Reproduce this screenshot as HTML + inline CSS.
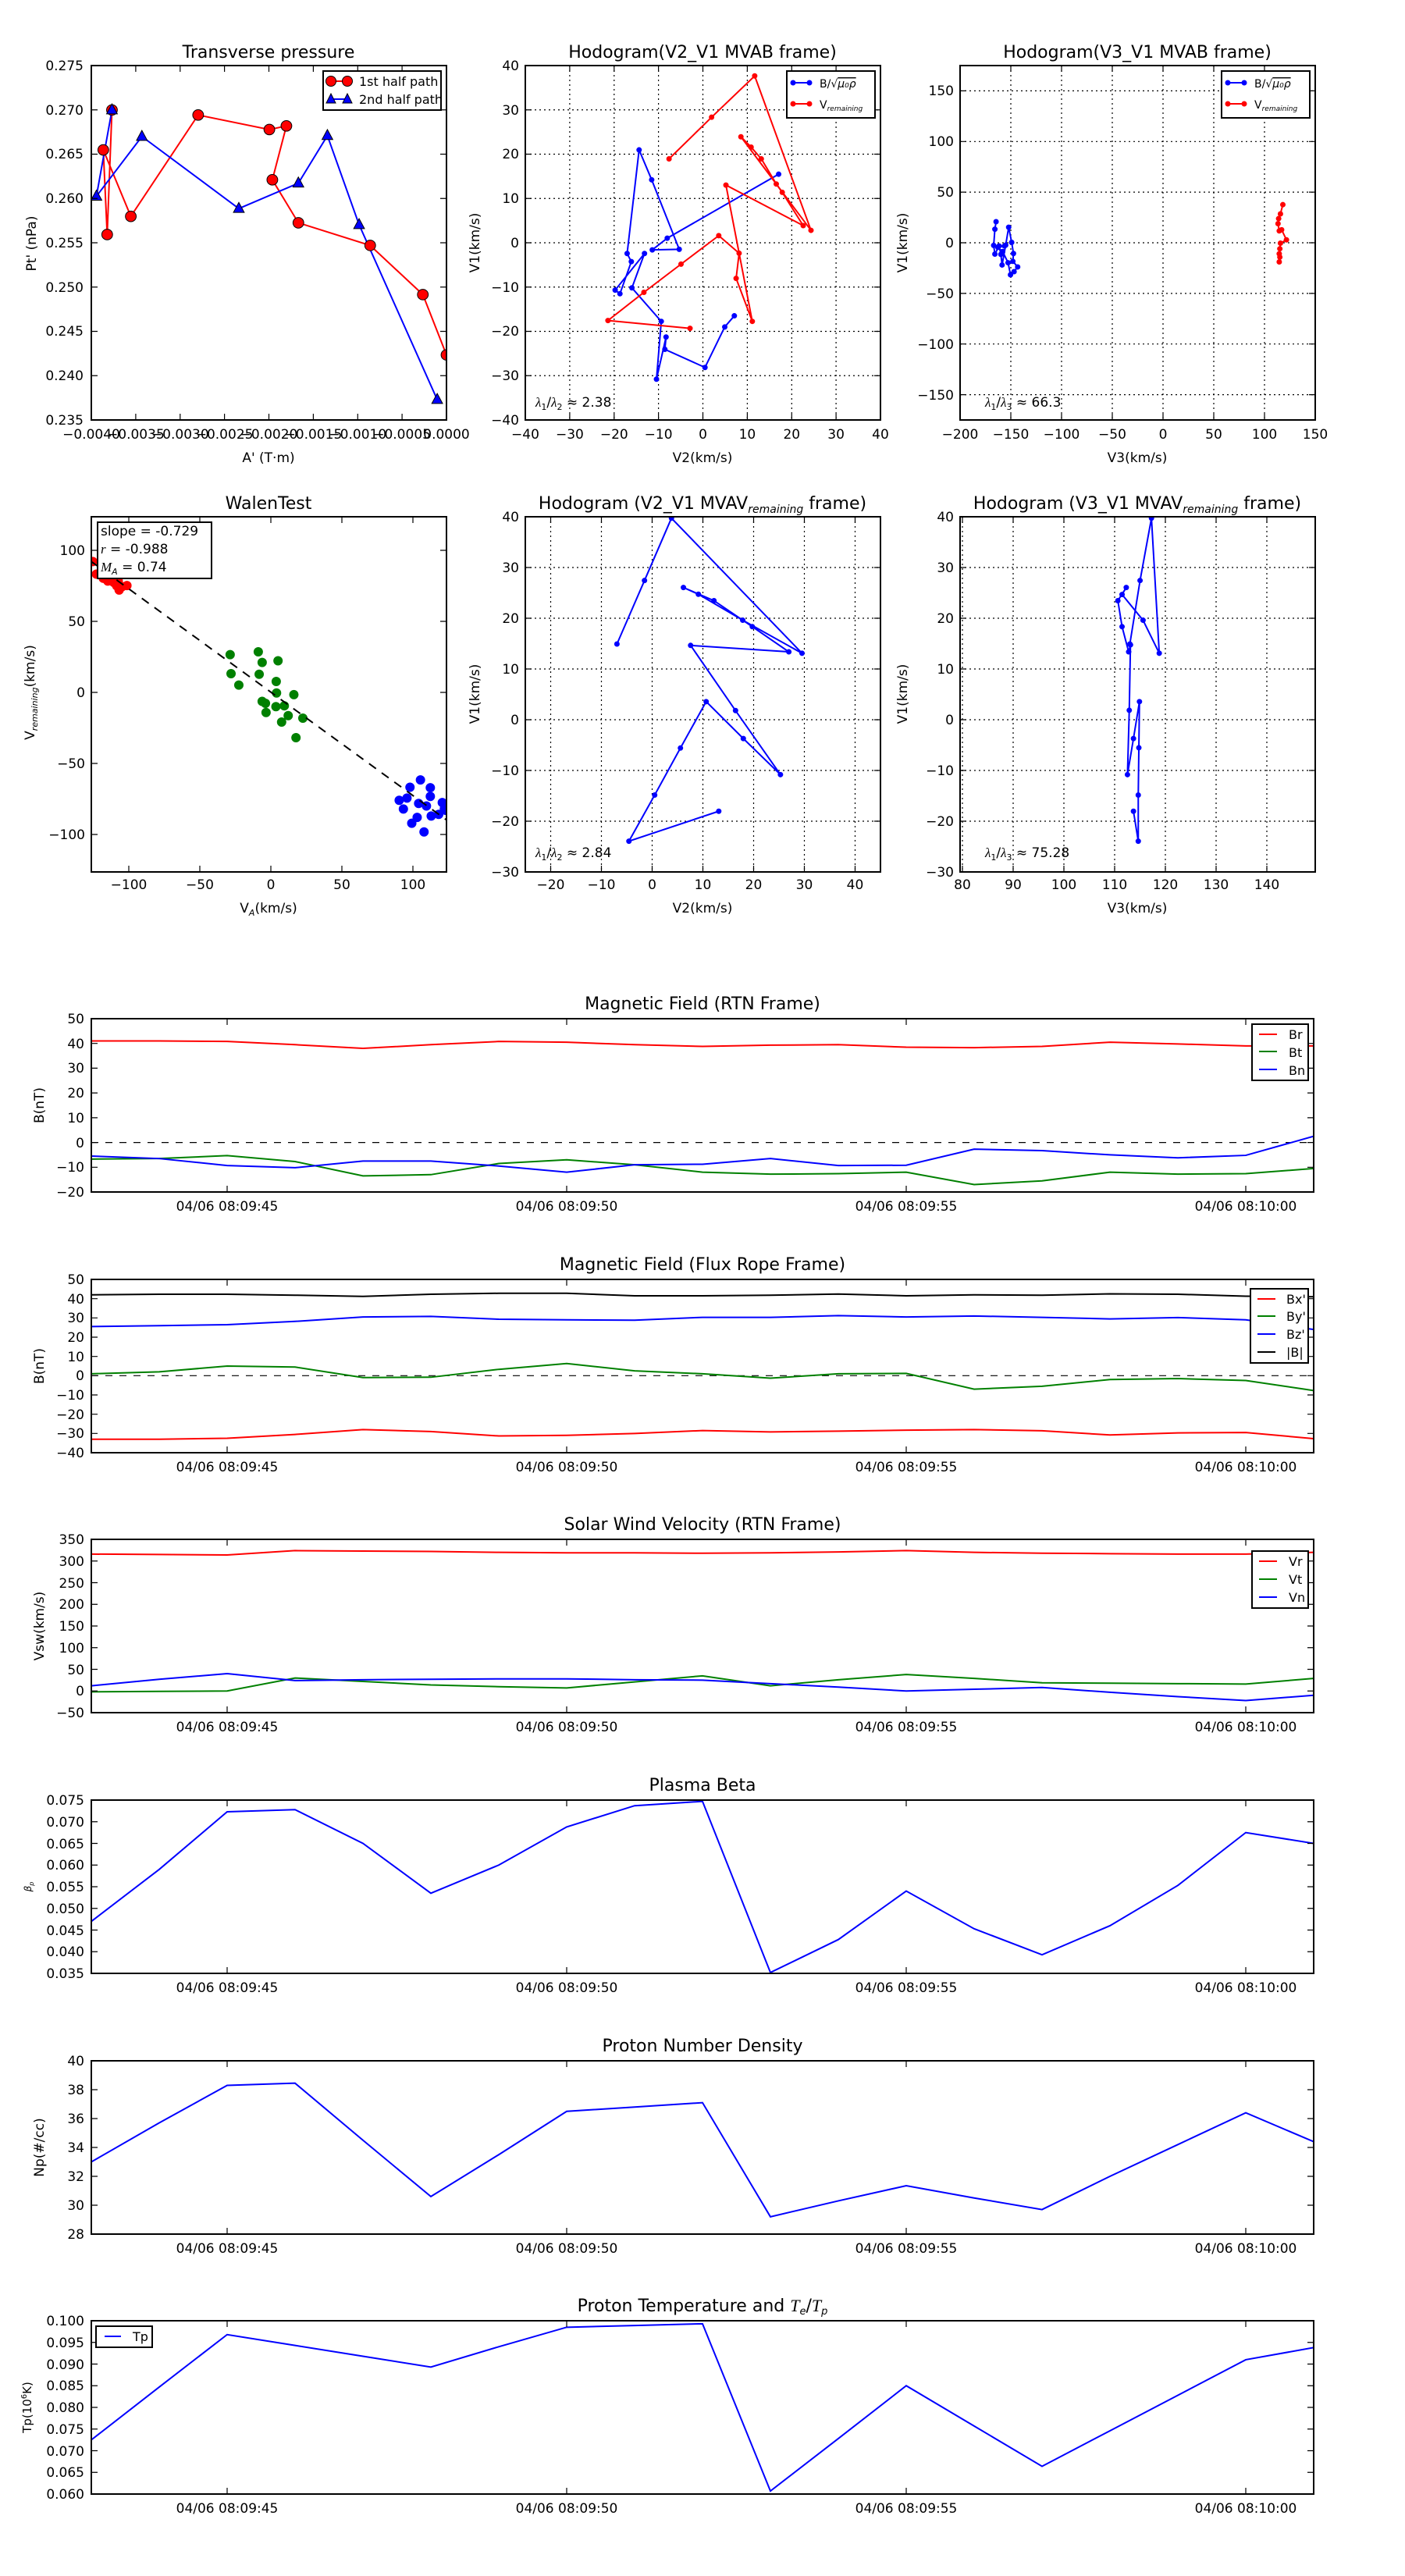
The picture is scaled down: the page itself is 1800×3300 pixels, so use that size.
<!DOCTYPE html>
<html><head><meta charset="utf-8"><style>
html,body{margin:0;padding:0;background:#fff}
svg{display:block}
text{font-family:"DejaVu Sans","Liberation Sans",sans-serif;fill:#000}
.t{font-size:22px;text-anchor:middle}
.k{font-size:17px}
.kr{font-size:17px;text-anchor:end}
.kc{font-size:17px;text-anchor:middle}
.ax{fill:none;stroke:#000;stroke-width:2}
.tk{fill:none;stroke:#000;stroke-width:1.2}
.gr{fill:none;stroke:#000;stroke-width:1.2;stroke-dasharray:2,4}
.ns{vector-effect:non-scaling-stroke}
polyline{fill:none}
</style></head><body>
<svg width="1800" height="3300" viewBox="0 0 1800 3300" xmlns="http://www.w3.org/2000/svg">
<rect width="1800" height="3300" fill="#fff"/>

<!-- ========== Transverse pressure ========== -->
<text class="t" x="344" y="74">Transverse pressure</text>
<svg x="117" y="84" width="455" height="454" viewBox="305 124 1187 1269" preserveAspectRatio="none">
<polyline class="ns" stroke="#f00" stroke-width="2" points="374,283 358,729 345,426 437,664 662,301 900,353 957,340 910,533 997,687 1237,768 1413,944 1492,1160"/>
<polyline class="ns" stroke="#00f" stroke-width="2" points="374,283 322,592 474,378 798,636 997,545 1094,375 1200,694 1461,1320"/>
<g fill="#f00" stroke="#000" stroke-width="1" >
<ellipse class="ns" fill="#f00" cx="374" cy="283" rx="18" ry="19"/><ellipse class="ns" fill="#f00" cx="358" cy="729" rx="18" ry="19"/><ellipse class="ns" fill="#f00" cx="345" cy="426" rx="18" ry="19"/><ellipse class="ns" fill="#f00" cx="437" cy="664" rx="18" ry="19"/><ellipse class="ns" fill="#f00" cx="662" cy="301" rx="18" ry="19"/><ellipse class="ns" fill="#f00" cx="900" cy="353" rx="18" ry="19"/><ellipse class="ns" fill="#f00" cx="957" cy="340" rx="18" ry="19"/><ellipse class="ns" fill="#f00" cx="910" cy="533" rx="18" ry="19"/><ellipse class="ns" fill="#f00" cx="997" cy="687" rx="18" ry="19"/><ellipse class="ns" fill="#f00" cx="1237" cy="768" rx="18" ry="19"/><ellipse class="ns" fill="#f00" cx="1413" cy="944" rx="18" ry="19"/><ellipse class="ns" fill="#f00" cx="1492" cy="1160" rx="18" ry="19"/>
</g>
<g stroke="#000" stroke-width="1">
<polygon class="ns" fill="#00f" points="356,297 392,297 374,261"/><polygon class="ns" fill="#00f" points="304,606 340,606 322,570"/><polygon class="ns" fill="#00f" points="456,392 492,392 474,356"/><polygon class="ns" fill="#00f" points="780,650 816,650 798,614"/><polygon class="ns" fill="#00f" points="979,559 1015,559 997,523"/><polygon class="ns" fill="#00f" points="1076,389 1112,389 1094,353"/><polygon class="ns" fill="#00f" points="1182,708 1218,708 1200,672"/><polygon class="ns" fill="#00f" points="1443,1334 1479,1334 1461,1298"/>
</g>
</svg>
<rect class="ax" x="117" y="84" width="455" height="454"/>
<path class="tk" d="M173.9 538v-8M230.8 538v-8M287.6 538v-8M344.5 538v-8M401.4 538v-8M458.3 538v-8M515.1 538v-8M173.9 84v8M230.8 84v8M287.6 84v8M344.5 84v8M401.4 84v8M458.3 84v8M515.1 84v8M117 140.75h8M117 197.5h8M117 254.25h8M117 311h8M117 367.75h8M117 424.5h8M117 481.25h8M572 140.75h-8M572 197.5h-8M572 254.25h-8M572 311h-8M572 367.75h-8M572 424.5h-8M572 481.25h-8"/>
<g class="kr"><text x="107" y="90">0.275</text><text x="107" y="147">0.270</text><text x="107" y="203">0.265</text><text x="107" y="260">0.260</text><text x="107" y="317">0.255</text><text x="107" y="374">0.250</text><text x="107" y="430">0.245</text><text x="107" y="487">0.240</text><text x="107" y="544">0.235</text></g>
<g class="kc"><text x="117" y="562">−0.0040</text><text x="173.9" y="562">−0.0035</text><text x="230.8" y="562">−0.0030</text><text x="287.6" y="562">−0.0025</text><text x="344.5" y="562">−0.0020</text><text x="401.4" y="562">−0.0015</text><text x="458.3" y="562">−0.0010</text><text x="515.1" y="562">−0.0005</text><text x="572" y="562">0.0000</text></g>
<text class="kc" x="344" y="592">A' (T·m)</text>
<text class="kc" transform="translate(46,312) rotate(-90)">Pt' (nPa)</text>
<rect x="414" y="91" width="151" height="50" fill="#fff" stroke="#000" stroke-width="2"/>
<path d="M424 104h21" stroke="#f00" stroke-width="2"/><circle cx="424" cy="104" r="6.5" fill="#f00" stroke="#000"/><circle cx="445" cy="104" r="6.5" fill="#f00" stroke="#000"/>
<path d="M424 127h21" stroke="#00f" stroke-width="2"/><polygon points="418,132 430,132 424,120" fill="#00f" stroke="#000"/><polygon points="439,132 451,132 445,120" fill="#00f" stroke="#000"/>
<text class="k" x="460" y="110" style="font-size:16px">1st half path</text><text class="k" x="460" y="133" style="font-size:16px">2nd half path</text>

<!-- ========== Hodogram V2_V1 MVAB ========== -->
<text class="t" x="900" y="74">Hodogram(V2_V1 MVAB frame)</text>
<path class="gr" d="M729.9 84V538M786.8 84V538M843.6 84V538M900.5 84V538M957.4 84V538M1014.3 84V538M1071.1 84V538M673 140.75H1128M673 197.5H1128M673 254.25H1128M673 311H1128M673 367.75H1128M673 424.5H1128M673 481.25H1128"/>
<svg x="673" y="84" width="455" height="454" viewBox="95 124 593 1269" preserveAspectRatio="none">
<polyline class="ns" stroke="#00f" stroke-width="2" points="444,1020 428,1060 395,1205 328,1140 330,1096 314,1247 322,1040 273,920 294,797 245,928 253,941 272,826 265,797 285,426 306,533 352,782 307,784 332,742 518,513"/>
<path class="ns" stroke="#00f" stroke-width="7" stroke-linecap="round" d="M444 1020h0M428 1060h0M395 1205h0M328 1140h0M330 1096h0M314 1247h0M322 1040h0M273 920h0M294 797h0M245 928h0M253 941h0M272 826h0M265 797h0M285 426h0M306 533h0M352 782h0M307 784h0M332 742h0M518 513h0"/>
<polyline class="ns" stroke="#f00" stroke-width="2" points="370,1065 233,1037 293,936 355,835 418,733 452,796 447,886 474,1040 430,552 559,697 524,578 514,548 489,458 472,416 455,379 572,714 478,161 406,309 335,458"/>
<path class="ns" stroke="#f00" stroke-width="7" stroke-linecap="round" d="M370 1065h0M233 1037h0M293 936h0M355 835h0M418 733h0M452 796h0M447 886h0M474 1040h0M430 552h0M559 697h0M524 578h0M514 548h0M489 458h0M472 416h0M455 379h0M572 714h0M478 161h0M406 309h0M335 458h0"/>
</svg>
<rect class="ax" x="673" y="84" width="455" height="454"/>
<path class="tk" d="M729.9 538v-8M786.8 538v-8M843.6 538v-8M900.5 538v-8M957.4 538v-8M1014.3 538v-8M1071.1 538v-8M729.9 84v8M786.8 84v8M843.6 84v8M900.5 84v8M957.4 84v8M1014.3 84v8M1071.1 84v8M673 140.75h8M673 197.5h8M673 254.25h8M673 311h8M673 367.75h8M673 424.5h8M673 481.25h8M1128 140.75h-8M1128 197.5h-8M1128 254.25h-8M1128 311h-8M1128 367.75h-8M1128 424.5h-8M1128 481.25h-8"/>
<g class="kr"><text x="665" y="90">40</text><text x="665" y="147">30</text><text x="665" y="203">20</text><text x="665" y="260">10</text><text x="665" y="317">0</text><text x="665" y="374">−10</text><text x="665" y="430">−20</text><text x="665" y="487">−30</text><text x="665" y="544">−40</text></g>
<g class="kc"><text x="673" y="562">−40</text><text x="729.9" y="562">−30</text><text x="786.8" y="562">−20</text><text x="843.6" y="562">−10</text><text x="900.5" y="562">0</text><text x="957.4" y="562">10</text><text x="1014.3" y="562">20</text><text x="1071.1" y="562">30</text><text x="1128" y="562">40</text></g>
<text class="kc" x="900" y="592">V2(km/s)</text>
<text class="kc" transform="translate(614,311) rotate(-90)">V1(km/s)</text>
<text class="k" x="686" y="521"><tspan font-style="italic" font-family="Liberation Serif,serif">λ</tspan><tspan font-size="11" dy="4">1</tspan><tspan dy="-4">/</tspan><tspan font-style="italic" font-family="Liberation Serif,serif">λ</tspan><tspan font-size="11" dy="4">2</tspan><tspan dy="-4"> ≈ 2.38</tspan></text>
<rect x="1008" y="91" width="113" height="60" fill="#fff" stroke="#000" stroke-width="2"/>
<path d="M1016 106h21" stroke="#00f" stroke-width="2"/><circle cx="1016" cy="106" r="3.5" fill="#00f"/><circle cx="1037" cy="106" r="3.5" fill="#00f"/>
<path d="M1016 133h21" stroke="#f00" stroke-width="2"/><circle cx="1016" cy="133" r="3.5" fill="#f00"/><circle cx="1037" cy="133" r="3.5" fill="#f00"/>
<text x="1050" y="112" style="font-size:14px">B/√<tspan font-style="italic" text-decoration="overline">μ₀ρ</tspan></text>
<text x="1050" y="139" style="font-size:14px">V<tspan font-size="9" font-style="italic" dy="3">remaining</tspan></text>

<!-- ========== Hodogram V3_V1 MVAB ========== -->
<text class="t" x="1457" y="74">Hodogram(V3_V1 MVAB frame)</text>
<path class="gr" d="M1295 84V538M1360 84V538M1425 84V538M1490 84V538M1555 84V538M1620 84V538M1230 116.4H1685M1230 181.3H1685M1230 246.1H1685M1230 311H1685M1230 375.9H1685M1230 440.7H1685M1230 505.6H1685"/>
<svg x="1230" y="84" width="455" height="454" viewBox="822 124 592 1269" preserveAspectRatio="none">
<polyline class="ns" stroke="#00f" stroke-width="2" points="882,683 880,710 878,768 880,799 887,770 890,800 892,838 898,767 903,703 908,757 911,797 910,825 918,845 912,862 906,873 902,830 893,790 885,775 896,770"/>
<path class="ns" stroke="#00f" stroke-width="7" stroke-linecap="round" d="M882 683h0M880 710h0M878 768h0M880 799h0M887 770h0M890 800h0M892 838h0M898 767h0M903 703h0M908 757h0M911 797h0M910 825h0M918 845h0M912 862h0M906 873h0M902 830h0M893 790h0M885 775h0M896 770h0"/>
<polyline class="ns" stroke="#f00" stroke-width="2" points="1360,622 1356,655 1353,672 1352,690 1354,716 1358,712 1366,748 1356,760 1355,780 1354,798 1355,810 1354,827 1354,820"/>
<path class="ns" stroke="#f00" stroke-width="7" stroke-linecap="round" d="M1360 622h0M1356 655h0M1353 672h0M1352 690h0M1354 716h0M1358 712h0M1366 748h0M1356 760h0M1355 780h0M1354 798h0M1355 810h0M1354 827h0"/>
</svg>
<rect class="ax" x="1230" y="84" width="455" height="454"/>
<path class="tk" d="M1295 538v-8M1360 538v-8M1425 538v-8M1490 538v-8M1555 538v-8M1620 538v-8M1295 84v8M1360 84v8M1425 84v8M1490 84v8M1555 84v8M1620 84v8M1230 116.4h8M1230 181.3h8M1230 246.1h8M1230 311h8M1230 375.9h8M1230 440.7h8M1230 505.6h8M1685 116.4h-8M1685 181.3h-8M1685 246.1h-8M1685 311h-8M1685 375.9h-8M1685 440.7h-8M1685 505.6h-8"/>
<g class="kr"><text x="1222" y="122">150</text><text x="1222" y="187">100</text><text x="1222" y="252">50</text><text x="1222" y="317">0</text><text x="1222" y="382">−50</text><text x="1222" y="447">−100</text><text x="1222" y="512">−150</text></g>
<g class="kc"><text x="1230" y="562">−200</text><text x="1295" y="562">−150</text><text x="1360" y="562">−100</text><text x="1425" y="562">−50</text><text x="1490" y="562">0</text><text x="1555" y="562">50</text><text x="1620" y="562">100</text><text x="1685" y="562">150</text></g>
<text class="kc" x="1457" y="592">V3(km/s)</text>
<text class="kc" transform="translate(1162,311) rotate(-90)">V1(km/s)</text>
<text class="k" x="1262" y="521"><tspan font-style="italic" font-family="Liberation Serif,serif">λ</tspan><tspan font-size="11" dy="4">1</tspan><tspan dy="-4">/</tspan><tspan font-style="italic" font-family="Liberation Serif,serif">λ</tspan><tspan font-size="11" dy="4">3</tspan><tspan dy="-4"> ≈ 66.3</tspan></text>
<rect x="1565" y="91" width="113" height="60" fill="#fff" stroke="#000" stroke-width="2"/>
<path d="M1573 106h21" stroke="#00f" stroke-width="2"/><circle cx="1573" cy="106" r="3.5" fill="#00f"/><circle cx="1594" cy="106" r="3.5" fill="#00f"/>
<path d="M1573 133h21" stroke="#f00" stroke-width="2"/><circle cx="1573" cy="133" r="3.5" fill="#f00"/><circle cx="1594" cy="133" r="3.5" fill="#f00"/>
<text x="1607" y="112" style="font-size:14px">B/√<tspan font-style="italic" text-decoration="overline">μ₀ρ</tspan></text>
<text x="1607" y="139" style="font-size:14px">V<tspan font-size="9" font-style="italic" dy="3">remaining</tspan></text>

<!-- ========== WalenTest ========== -->
<text class="t" x="344" y="652">WalenTest</text>
<svg x="117" y="662" width="455" height="455" viewBox="305 90 1187 1270" preserveAspectRatio="none">
<path class="ns" stroke="#f00" stroke-width="12" stroke-linecap="round" d="M310 250h0M322 295h0M345 310h0M360 320h0M372 318h0M385 312h0M390 337h0M398 352h0M408 340h0M424 336h0M395 320h0M380 325h0"/>
<path class="ns" stroke="#008000" stroke-width="12" stroke-linecap="round" d="M769 583h0M772 651h0M798 692h0M863 573h0M876 611h0M866 653h0M929 605h0M923 679h0M924 720h0M982 726h0M876 750h0M887 757h0M922 769h0M950 766h0M889 790h0M963 801h0M941 824h0M1012 810h0M989 880h0"/>
<path class="ns" stroke="#00f" stroke-width="12" stroke-linecap="round" d="M1334 1104h0M1348 1135h0M1360 1096h0M1370 1057h0M1376 1186h0M1394 1165h0M1399 1115h0M1405 1031h0M1417 1217h0M1425 1124h0M1438 1059h0M1438 1090h0M1441 1160h0M1466 1154h0M1478 1112h0M1485 1134h0M1490 1140h0"/>
</svg>
<path d="M117 719.4L572 1050.4" stroke="#000" stroke-width="2" stroke-dasharray="11,9" fill="none"/>
<rect class="ax" x="117" y="662" width="455" height="455"/>
<path class="tk" d="M165 1117v-8M256 1117v-8M347 1117v-8M438 1117v-8M529 1117v-8M165 662v8M256 662v8M347 662v8M438 662v8M529 662v8M117 705h8M117 796h8M117 887h8M117 978h8M117 1069h8M572 705h-8M572 796h-8M572 887h-8M572 978h-8M572 1069h-8"/>
<g class="kr"><text x="109" y="711">100</text><text x="109" y="802">50</text><text x="109" y="893">0</text><text x="109" y="984">−50</text><text x="109" y="1075">−100</text></g>
<g class="kc"><text x="165" y="1139">−100</text><text x="256" y="1139">−50</text><text x="347" y="1139">0</text><text x="438" y="1139">50</text><text x="529" y="1139">100</text></g>
<text class="kc" x="344" y="1169">V<tspan font-size="11" font-style="italic" dy="4">A</tspan><tspan dy="-4">(km/s)</tspan></text>
<text class="kc" transform="translate(44,887) rotate(-90)">V<tspan font-size="11" font-style="italic" dy="4">remaining</tspan><tspan dy="-4">(km/s)</tspan></text>
<rect x="125" y="669" width="146" height="72" fill="#fff" stroke="#000" stroke-width="2"/>
<text class="k" x="129" y="686">slope = -0.729</text>
<text class="k" x="129" y="709"><tspan font-style="italic" font-family="Liberation Serif,serif">r</tspan> = -0.988</text>
<text class="k" x="129" y="732"><tspan font-style="italic" font-family="Liberation Serif,serif">M</tspan><tspan font-size="11" font-style="italic" dy="4">A</tspan><tspan dy="-4"> = 0.74</tspan></text>

<!-- ========== Hodogram V2_V1 MVAV ========== -->
<text class="t" x="900" y="652">Hodogram (V2_V1 MVAV<tspan font-size="14" font-style="italic" dy="5">remaining</tspan><tspan dy="-5"> frame)</tspan></text>
<path class="gr" d="M705.5 662V1117M770.5 662V1117M835.5 662V1117M900.5 662V1117M965.5 662V1117M1030.5 662V1117M1095.5 662V1117M673 727H1128M673 792H1128M673 857H1128M673 922H1128M673 987H1128M673 1052H1128"/>
<svg x="673" y="662" width="455" height="455" viewBox="95 90 593 1270" preserveAspectRatio="none">
<polyline class="ns" stroke="#00f" stroke-width="2" points="418,1143 268,1250 311,1085 354,917 397,751 459,883 521,1012 446,783 371,550 535,573 474,483 410,390 359,343 384,367 458,460 557,578 339,95 294,318 248,545"/>
<path class="ns" stroke="#00f" stroke-width="7" stroke-linecap="round" d="M418 1143h0M268 1250h0M311 1085h0M354 917h0M397 751h0M459 883h0M521 1012h0M446 783h0M371 550h0M535 573h0M474 483h0M410 390h0M359 343h0M384 367h0M458 460h0M557 578h0M339 95h0M294 318h0M248 545h0"/>
</svg>
<rect class="ax" x="673" y="662" width="455" height="455"/>
<path class="tk" d="M705.5 1117v-8M770.5 1117v-8M835.5 1117v-8M900.5 1117v-8M965.5 1117v-8M1030.5 1117v-8M1095.5 1117v-8M705.5 662v8M770.5 662v8M835.5 662v8M900.5 662v8M965.5 662v8M1030.5 662v8M1095.5 662v8M673 727h8M673 792h8M673 857h8M673 922h8M673 987h8M673 1052h8M1128 727h-8M1128 792h-8M1128 857h-8M1128 922h-8M1128 987h-8M1128 1052h-8"/>
<g class="kr"><text x="665" y="668">40</text><text x="665" y="733">30</text><text x="665" y="798">20</text><text x="665" y="863">10</text><text x="665" y="928">0</text><text x="665" y="993">−10</text><text x="665" y="1058">−20</text><text x="665" y="1123">−30</text></g>
<g class="kc"><text x="705.5" y="1139">−20</text><text x="770.5" y="1139">−10</text><text x="835.5" y="1139">0</text><text x="900.5" y="1139">10</text><text x="965.5" y="1139">20</text><text x="1030.5" y="1139">30</text><text x="1095.5" y="1139">40</text></g>
<text class="kc" x="900" y="1169">V2(km/s)</text>
<text class="kc" transform="translate(614,889) rotate(-90)">V1(km/s)</text>
<text class="k" x="686" y="1098"><tspan font-style="italic" font-family="Liberation Serif,serif">λ</tspan><tspan font-size="11" dy="4">1</tspan><tspan dy="-4">/</tspan><tspan font-style="italic" font-family="Liberation Serif,serif">λ</tspan><tspan font-size="11" dy="4">2</tspan><tspan dy="-4"> ≈ 2.84</tspan></text>

<!-- ========== Hodogram V3_V1 MVAV ========== -->
<text class="t" x="1457" y="652">Hodogram (V3_V1 MVAV<tspan font-size="14" font-style="italic" dy="5">remaining</tspan><tspan dy="-5"> frame)</tspan></text>
<path class="gr" d="M1233 662V1117M1298 662V1117M1363 662V1117M1428 662V1117M1493 662V1117M1558 662V1117M1623 662V1117M1230 727H1685M1230 792H1685M1230 857H1685M1230 922H1685M1230 987H1685M1230 1052H1685"/>
<svg x="1230" y="662" width="455" height="455" viewBox="822 90 592 1270" preserveAspectRatio="none">
<polyline class="ns" stroke="#00f" stroke-width="2" points="1111,1143 1119,1250 1119,1085 1120,916 1121,751 1111,883 1101,1012 1104,782 1106,548 1103,573 1092,483 1085,390 1099,343 1092,368 1127,460 1154,578 1141,95 1122,318 1105,545"/>
<path class="ns" stroke="#00f" stroke-width="7" stroke-linecap="round" d="M1111 1143h0M1119 1250h0M1119 1085h0M1120 916h0M1121 751h0M1111 883h0M1101 1012h0M1104 782h0M1106 548h0M1103 573h0M1092 483h0M1085 390h0M1099 343h0M1092 368h0M1127 460h0M1154 578h0M1141 95h0M1122 318h0M1105 545h0"/>
</svg>
<rect class="ax" x="1230" y="662" width="455" height="455"/>
<path class="tk" d="M1233 1117v-8M1298 1117v-8M1363 1117v-8M1428 1117v-8M1493 1117v-8M1558 1117v-8M1623 1117v-8M1233 662v8M1298 662v8M1363 662v8M1428 662v8M1493 662v8M1558 662v8M1623 662v8M1230 727h8M1230 792h8M1230 857h8M1230 922h8M1230 987h8M1230 1052h8M1685 727h-8M1685 792h-8M1685 857h-8M1685 922h-8M1685 987h-8M1685 1052h-8"/>
<g class="kr"><text x="1222" y="668">40</text><text x="1222" y="733">30</text><text x="1222" y="798">20</text><text x="1222" y="863">10</text><text x="1222" y="928">0</text><text x="1222" y="993">−10</text><text x="1222" y="1058">−20</text><text x="1222" y="1123">−30</text></g>
<g class="kc"><text x="1233" y="1139">80</text><text x="1298" y="1139">90</text><text x="1363" y="1139">100</text><text x="1428" y="1139">110</text><text x="1493" y="1139">120</text><text x="1558" y="1139">130</text><text x="1623" y="1139">140</text></g>
<text class="kc" x="1457" y="1169">V3(km/s)</text>
<text class="kc" transform="translate(1162,889) rotate(-90)">V1(km/s)</text>
<text class="k" x="1262" y="1098"><tspan font-style="italic" font-family="Liberation Serif,serif">λ</tspan><tspan font-size="11" dy="4">1</tspan><tspan dy="-4">/</tspan><tspan font-style="italic" font-family="Liberation Serif,serif">λ</tspan><tspan font-size="11" dy="4">3</tspan><tspan dy="-4"> ≈ 75.28</tspan></text>

<!-- Panel 1: Magnetic Field RTN -->
<text class="t" x="900" y="1293">Magnetic Field (RTN Frame)</text>
<path d="M117 1463.6H1683" stroke="#000" stroke-width="1.2" stroke-dasharray="9,9"/>
<svg x="117" y="1305" width="1566" height="222" viewBox="0 -50 18 70" preserveAspectRatio="none">
<polyline class="ns" stroke="#f00" stroke-width="2" points="0,-41 1,-41 2,-40.8 3,-39.5 4,-38 5,-39.5 6,-40.8 7,-40.5 8,-39.5 9,-38.8 10,-39.3 11,-39.5 12,-38.5 13,-38.3 14,-38.8 15,-40.5 16,-39.8 17,-39 18,-39"/>
<polyline class="ns" stroke="#008000" stroke-width="2" points="0,6.7 1,6.5 2,5.3 3,7.7 4,13.5 5,13 6,8.5 7,7 8,9 9,12 10,12.8 11,12.6 12,12 13,17 14,15.5 15,12 16,12.8 17,12.6 18,10.5"/>
<polyline class="ns" stroke="#00f" stroke-width="2" points="0,5.5 1,6.5 2,9.3 3,10.2 4,7.5 5,7.5 6,9.5 7,12 8,9 9,8.8 10,6.5 11,9.3 12,9.2 13,2.7 14,3.3 15,5 16,6.2 17,5.2 18,-2.5"/>
</svg>
<rect class="ax" x="117" y="1305" width="1566" height="222"/>
<path class="tk" d="M291 1527v-8M726 1527v-8M1161 1527v-8M1596 1527v-8M291 1305v8M726 1305v8M1161 1305v8M1596 1305v8M117 1336.7h8M117 1368.4h8M117 1400.1h8M117 1431.9h8M117 1463.6h8M117 1495.3h8M1683 1336.7h-8M1683 1368.4h-8M1683 1400.1h-8M1683 1431.9h-8M1683 1463.6h-8M1683 1495.3h-8"/>
<g class="kr"><text x="108" y="1311">50</text><text x="108" y="1343">40</text><text x="108" y="1374">30</text><text x="108" y="1406">20</text><text x="108" y="1438">10</text><text x="108" y="1470">0</text><text x="108" y="1501">−10</text><text x="108" y="1533">−20</text></g>
<g class="kc"><text x="291" y="1551">04/06 08:09:45</text><text x="726" y="1551">04/06 08:09:50</text><text x="1161" y="1551">04/06 08:09:55</text><text x="1596" y="1551">04/06 08:10:00</text></g>
<text class="kc" transform="translate(56,1416) rotate(-90)">B(nT)</text>
<rect x="1604" y="1312" width="72" height="72" fill="#fff" stroke="#000" stroke-width="2"/>
<path d="M1613 1325h23" stroke="#f00" stroke-width="2"/><path d="M1613 1347h23" stroke="#008000" stroke-width="2"/><path d="M1613 1370h23" stroke="#00f" stroke-width="2"/>
<text x="1651" y="1331" style="font-size:16px">Br</text><text x="1651" y="1354" style="font-size:16px">Bt</text><text x="1651" y="1377" style="font-size:16px">Bn</text>

<!-- Panel 2: Flux Rope -->
<text class="t" x="900" y="1627">Magnetic Field (Flux Rope Frame)</text>
<path d="M117 1762.3H1683" stroke="#000" stroke-width="1.2" stroke-dasharray="9,9"/>
<svg x="117" y="1639" width="1566" height="222" viewBox="0 -50 18 90" preserveAspectRatio="none">
<polyline class="ns" stroke="#f00" stroke-width="2" points="0,33 1,33 2,32.5 3,30.5 4,28 5,29 6,31.3 7,31 8,30 9,28.5 10,29.2 11,28.8 12,28.3 13,28 14,28.6 15,30.8 16,29.7 17,29.5 18,32.7"/>
<polyline class="ns" stroke="#008000" stroke-width="2" points="0,-1 1,-2 2,-5 3,-4.5 4,1 5,0.8 6,-3.3 7,-6.3 8,-2.5 9,-1 10,1.3 11,-1 12,-1.2 13,7 14,5.5 15,2 16,1.5 17,2.5 18,7.7"/>
<polyline class="ns" stroke="#00f" stroke-width="2" points="0,-25.5 1,-26 2,-26.5 3,-28.2 4,-30.5 5,-30.8 6,-29.3 7,-29 8,-28.8 9,-30.3 10,-30.3 11,-31.2 12,-30.5 13,-31 14,-30.3 15,-29.5 16,-30.2 17,-29 18,-24"/>
<polyline class="ns" stroke="#000" stroke-width="2" points="0,-42 1,-42.3 2,-42.3 3,-41.8 4,-41.2 5,-42.3 6,-42.8 7,-42.8 8,-41.5 9,-41.5 10,-41.8 11,-42.4 12,-41.5 13,-42 14,-41.8 15,-42.5 16,-42.3 17,-41.3 18,-41"/>
</svg>
<rect class="ax" x="117" y="1639" width="1566" height="222"/>
<path class="tk" d="M291 1861v-8M726 1861v-8M1161 1861v-8M1596 1861v-8M291 1639v8M726 1639v8M1161 1639v8M1596 1639v8M117 1663.7h8M117 1688.3h8M117 1713h8M117 1737.7h8M117 1762.3h8M117 1787h8M117 1811.7h8M117 1836.3h8M1683 1663.7h-8M1683 1688.3h-8M1683 1713h-8M1683 1737.7h-8M1683 1762.3h-8M1683 1787h-8M1683 1811.7h-8M1683 1836.3h-8"/>
<g class="kr"><text x="108" y="1645">50</text><text x="108" y="1670">40</text><text x="108" y="1694">30</text><text x="108" y="1719">20</text><text x="108" y="1744">10</text><text x="108" y="1768">0</text><text x="108" y="1793">−10</text><text x="108" y="1818">−20</text><text x="108" y="1842">−30</text><text x="108" y="1867">−40</text></g>
<g class="kc"><text x="291" y="1885">04/06 08:09:45</text><text x="726" y="1885">04/06 08:09:50</text><text x="1161" y="1885">04/06 08:09:55</text><text x="1596" y="1885">04/06 08:10:00</text></g>
<text class="kc" transform="translate(56,1750) rotate(-90)">B(nT)</text>
<rect x="1602" y="1651" width="74" height="95" fill="#fff" stroke="#000" stroke-width="2"/>
<path d="M1611 1664h23" stroke="#f00" stroke-width="2"/><path d="M1611 1686h23" stroke="#008000" stroke-width="2"/><path d="M1611 1709h23" stroke="#00f" stroke-width="2"/><path d="M1611 1732h23" stroke="#000" stroke-width="2"/>
<text x="1648" y="1670" style="font-size:16px">Bx'</text><text x="1648" y="1692" style="font-size:16px">By'</text><text x="1648" y="1715" style="font-size:16px">Bz'</text><text x="1648" y="1738" style="font-size:16px">|B|</text>

<!-- Panel 3: Velocity -->
<text class="t" x="900" y="1960">Solar Wind Velocity (RTN Frame)</text>
<svg x="117" y="1972" width="1566" height="222" viewBox="0 -350 18 400" preserveAspectRatio="none">
<polyline class="ns" stroke="#f00" stroke-width="2" points="0,-316 1,-315 2,-314 3,-324 4,-323 5,-322 6,-320 7,-319 8,-319 9,-318 10,-319 11,-321 12,-324 13,-320 14,-318 15,-317 16,-316 17,-316 18,-320"/>
<polyline class="ns" stroke="#008000" stroke-width="2" points="0,2 1,1 2,0 3,-30 4,-22 5,-14 6,-10 7,-7 8,-21 9,-35 10,-12 11,-26 12,-38 13,-29 14,-19 15,-18 16,-17 17,-16 18,-29"/>
<polyline class="ns" stroke="#00f" stroke-width="2" points="0,-12 1,-27 2,-40 3,-24 4,-26 5,-27 6,-28 7,-28 8,-26 9,-25 10,-17 11,-9 12,0 13,-4 14,-8 15,3 16,13 17,22 18,10"/>
</svg>
<rect class="ax" x="117" y="1972" width="1566" height="222"/>
<path class="tk" d="M291 2194v-8M726 2194v-8M1161 2194v-8M1596 2194v-8M291 1972v8M726 1972v8M1161 1972v8M1596 1972v8M117 1999.75h8M117 2027.5h8M117 2055.25h8M117 2083h8M117 2110.75h8M117 2138.5h8M117 2166.25h8M1683 1999.75h-8M1683 2027.5h-8M1683 2055.25h-8M1683 2083h-8M1683 2110.75h-8M1683 2138.5h-8M1683 2166.25h-8"/>
<g class="kr"><text x="108" y="1978">350</text><text x="108" y="2006">300</text><text x="108" y="2034">250</text><text x="108" y="2061">200</text><text x="108" y="2089">150</text><text x="108" y="2117">100</text><text x="108" y="2145">50</text><text x="108" y="2172">0</text><text x="108" y="2200">−50</text></g>
<g class="kc"><text x="291" y="2218">04/06 08:09:45</text><text x="726" y="2218">04/06 08:09:50</text><text x="1161" y="2218">04/06 08:09:55</text><text x="1596" y="2218">04/06 08:10:00</text></g>
<text class="kc" transform="translate(56,2083) rotate(-90)">Vsw(km/s)</text>
<rect x="1604" y="1987" width="72" height="73" fill="#fff" stroke="#000" stroke-width="2"/>
<path d="M1613 2000h23" stroke="#f00" stroke-width="2"/><path d="M1613 2023h23" stroke="#008000" stroke-width="2"/><path d="M1613 2046h23" stroke="#00f" stroke-width="2"/>
<text x="1651" y="2006" style="font-size:16px">Vr</text><text x="1651" y="2029" style="font-size:16px">Vt</text><text x="1651" y="2052" style="font-size:16px">Vn</text>

<!-- Panel 4: Plasma Beta -->
<text class="t" x="900" y="2294">Plasma Beta</text>
<svg x="117" y="2306" width="1566" height="222" viewBox="0 -0.075 18 0.04" preserveAspectRatio="none">
<polyline class="ns" stroke="#00f" stroke-width="2" points="0,-0.047 1,-0.059 2,-0.0723 3,-0.0728 4,-0.065 5,-0.0535 6,-0.060 7,-0.0688 8,-0.0737 9,-0.0747 10,-0.0352 11,-0.0428 12,-0.0540 13,-0.0453 14,-0.0393 15,-0.046 16,-0.0553 17,-0.0675 18,-0.065"/>
</svg>
<rect class="ax" x="117" y="2306" width="1566" height="222"/>
<path class="tk" d="M291 2528v-8M726 2528v-8M1161 2528v-8M1596 2528v-8M291 2306v8M726 2306v8M1161 2306v8M1596 2306v8M117 2333.75h8M117 2361.5h8M117 2389.25h8M117 2417h8M117 2444.75h8M117 2472.5h8M117 2500.25h8M1683 2333.75h-8M1683 2361.5h-8M1683 2389.25h-8M1683 2417h-8M1683 2444.75h-8M1683 2472.5h-8M1683 2500.25h-8"/>
<g class="kr"><text x="108" y="2312">0.075</text><text x="108" y="2340">0.070</text><text x="108" y="2368">0.065</text><text x="108" y="2395">0.060</text><text x="108" y="2423">0.055</text><text x="108" y="2451">0.050</text><text x="108" y="2479">0.045</text><text x="108" y="2506">0.040</text><text x="108" y="2534">0.035</text></g>
<g class="kc"><text x="291" y="2552">04/06 08:09:45</text><text x="726" y="2552">04/06 08:09:50</text><text x="1161" y="2552">04/06 08:09:55</text><text x="1596" y="2552">04/06 08:10:00</text></g>
<text class="kc" transform="translate(40,2417) rotate(-90)" style="font-size:12px;font-style:italic">β<tspan font-size="8" dy="3">p</tspan></text>

<!-- Panel 5: Proton density -->
<text class="t" x="900" y="2628">Proton Number Density</text>
<svg x="117" y="2640" width="1566" height="222" viewBox="0 -40 18 12" preserveAspectRatio="none">
<polyline class="ns" stroke="#00f" stroke-width="2" points="0,-33 1,-35.7 2,-38.3 3,-38.45 4,-34.5 5,-30.6 6,-33.5 7,-36.5 8,-36.8 9,-37.1 10,-29.2 11,-30.3 12,-31.35 13,-30.5 14,-29.7 15,-32 16,-34.2 17,-36.4 18,-34.4"/>
</svg>
<rect class="ax" x="117" y="2640" width="1566" height="222"/>
<path class="tk" d="M291 2862v-8M726 2862v-8M1161 2862v-8M1596 2862v-8M291 2640v8M726 2640v8M1161 2640v8M1596 2640v8M117 2677h8M117 2714h8M117 2751h8M117 2788h8M117 2825h8M1683 2677h-8M1683 2714h-8M1683 2751h-8M1683 2788h-8M1683 2825h-8"/>
<g class="kr"><text x="108" y="2646">40</text><text x="108" y="2683">38</text><text x="108" y="2720">36</text><text x="108" y="2757">34</text><text x="108" y="2794">32</text><text x="108" y="2831">30</text><text x="108" y="2868">28</text></g>
<g class="kc"><text x="291" y="2886">04/06 08:09:45</text><text x="726" y="2886">04/06 08:09:50</text><text x="1161" y="2886">04/06 08:09:55</text><text x="1596" y="2886">04/06 08:10:00</text></g>
<text class="kc" transform="translate(56,2751) rotate(-90)">Np(#/cc)</text>

<!-- Panel 6: Proton temperature -->
<text class="t" x="900" y="2961">Proton Temperature and <tspan font-style="italic" font-family="Liberation Serif,serif">T</tspan><tspan font-size="13" font-style="italic" dy="4">e</tspan><tspan dy="-4">/</tspan><tspan font-style="italic" font-family="Liberation Serif,serif">T</tspan><tspan font-size="13" font-style="italic" dy="4">p</tspan></text>
<svg x="117" y="2973" width="1566" height="222" viewBox="0 -0.1 18 0.04" preserveAspectRatio="none">
<polyline class="ns" stroke="#00f" stroke-width="2" points="0,-0.0725 1,-0.0847 2,-0.0968 3,-0.0943 4,-0.0918 5,-0.0893 6,-0.094 7,-0.0985 8,-0.0989 9,-0.0993 10,-0.0607 11,-0.0728 12,-0.085 13,-0.0757 14,-0.0664 15,-0.0746 16,-0.0828 17,-0.091 18,-0.0938"/>
</svg>
<rect class="ax" x="117" y="2973" width="1566" height="222"/>
<path class="tk" d="M291 3195v-8M726 3195v-8M1161 3195v-8M1596 3195v-8M291 2973v8M726 2973v8M1161 2973v8M1596 2973v8M117 3000.75h8M117 3028.5h8M117 3056.25h8M117 3084h8M117 3111.75h8M117 3139.5h8M117 3167.25h8M1683 3000.75h-8M1683 3028.5h-8M1683 3056.25h-8M1683 3084h-8M1683 3111.75h-8M1683 3139.5h-8M1683 3167.25h-8"/>
<g class="kr"><text x="108" y="2979">0.100</text><text x="108" y="3007">0.095</text><text x="108" y="3035">0.090</text><text x="108" y="3062">0.085</text><text x="108" y="3090">0.080</text><text x="108" y="3118">0.075</text><text x="108" y="3146">0.070</text><text x="108" y="3173">0.065</text><text x="108" y="3201">0.060</text></g>
<g class="kc"><text x="291" y="3219">04/06 08:09:45</text><text x="726" y="3219">04/06 08:09:50</text><text x="1161" y="3219">04/06 08:09:55</text><text x="1596" y="3219">04/06 08:10:00</text></g>
<text class="kc" transform="translate(40,3084) rotate(-90)" style="font-size:15px">Tp(10<tspan font-size="10" dy="-6">6</tspan><tspan dy="6">K)</tspan></text>
<rect x="123" y="2980" width="72" height="27" fill="#fff" stroke="#000" stroke-width="2"/>
<path d="M134 2993h21" stroke="#00f" stroke-width="2"/>
<text x="170" y="2999" style="font-size:16px">Tp</text>
</svg>
</body></html>
